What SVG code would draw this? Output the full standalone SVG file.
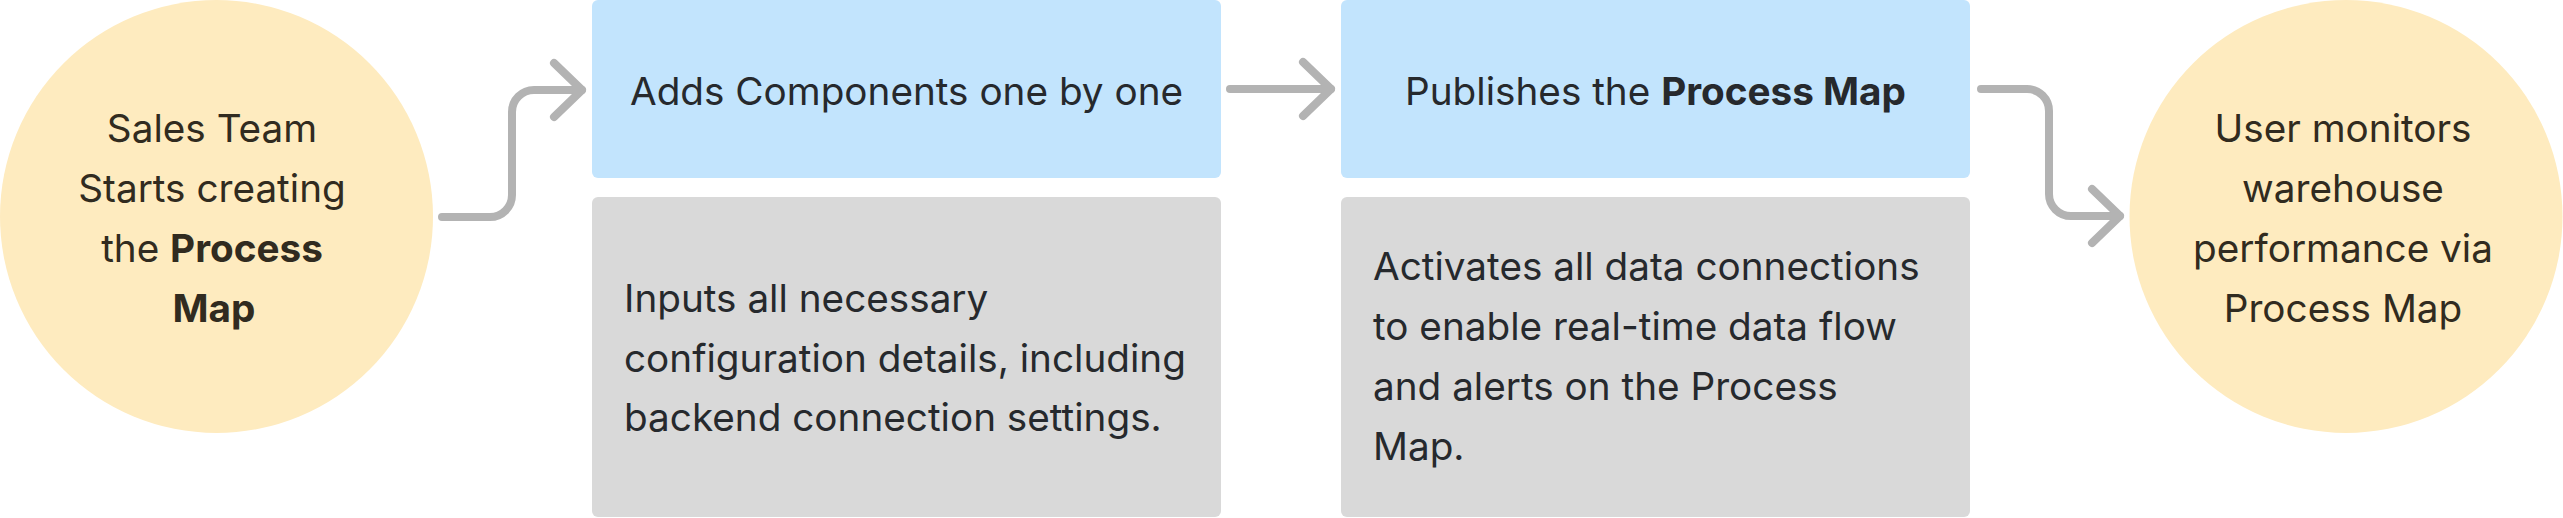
<svg xmlns="http://www.w3.org/2000/svg" width="2563" height="518" viewBox="0 0 2563 518">
<defs>
<style>
.circ{fill:#feebbf}
.blue{fill:#c2e4fd}
.gray{fill:#d9d9d9}
.t{font-family:Inter,"Noto Sans","Liberation Sans",sans-serif;font-size:38.7px}
.tc{fill:#312b20;text-anchor:middle}
.tb{fill:#26292d}
.mid{text-anchor:middle}
.b{font-weight:700}
.conn{fill:none;stroke:#b3b3b3;stroke-width:8;stroke-linecap:round;stroke-linejoin:round;marker-end:url(#chev)}
</style>
<marker id="chev" markerUnits="userSpaceOnUse" viewBox="-34 -34 40 68" refX="0" refY="0" markerWidth="40" markerHeight="68" orient="auto">
<path d="M -28 -27 L 0 0 L -28 27" fill="none" stroke="#b3b3b3" stroke-width="8" stroke-linecap="round" stroke-linejoin="round"/>
</marker>
</defs>
<rect width="2563" height="518" fill="#ffffff"/>
<g id="connectors">
<path class="conn" d="M 442 217 H 490 A 22 22 0 0 0 512 195 V 112 A 22 22 0 0 1 534 90 H 582"/>
<path class="conn" d="M 1230 89 H 1331"/>
<path class="conn" d="M 1981 89 H 2027 A 22 22 0 0 1 2049 111 V 194 A 22 22 0 0 0 2071 216 H 2120"/>
</g>
<g id="start">
<circle class="circ" cx="216.5" cy="216.5" r="216.5"/>
<text class="t tc" x="212" y="142">Sales Team</text>
<text class="t tc" x="212" y="202">Starts creating</text>
<text class="t tc" x="212" y="262">the <tspan class="b">Process</tspan></text>
<text class="t tc b" x="214" y="322">Map</text>
</g>
<g id="step1">
<rect class="blue" x="592" y="0" width="629" height="178" rx="6"/>
<text class="t tb mid" x="906.5" y="105">Adds Components one by one</text>
</g>
<g id="step1-detail">
<rect class="gray" x="592" y="197" width="629" height="320" rx="6"/>
<text class="t tb" x="624" y="312">Inputs all necessary</text>
<text class="t tb" x="624" y="372">configuration details, including</text>
<text class="t tb" x="624" y="431">backend connection settings.</text>
</g>
<g id="step2">
<rect class="blue" x="1341" y="0" width="629" height="178" rx="6"/>
<text class="t tb mid" x="1655.5" y="105">Publishes the <tspan class="b">Process Map</tspan></text>
</g>
<g id="step2-detail">
<rect class="gray" x="1341" y="197" width="629" height="320" rx="6"/>
<text class="t tb" x="1373" y="280">Activates all data connections</text>
<text class="t tb" x="1373" y="340">to enable real-time data flow</text>
<text class="t tb" x="1373" y="400">and alerts on the Process</text>
<text class="t tb" x="1373" y="460">Map.</text>
</g>
<g id="end">
<circle class="circ" cx="2346" cy="216.5" r="216.5"/>
<text class="t tc" x="2343" y="142">User monitors</text>
<text class="t tc" x="2343" y="202">warehouse</text>
<text class="t tc" x="2343" y="262">performance via</text>
<text class="t tc" x="2343" y="322">Process Map</text>
</g>
</svg>
